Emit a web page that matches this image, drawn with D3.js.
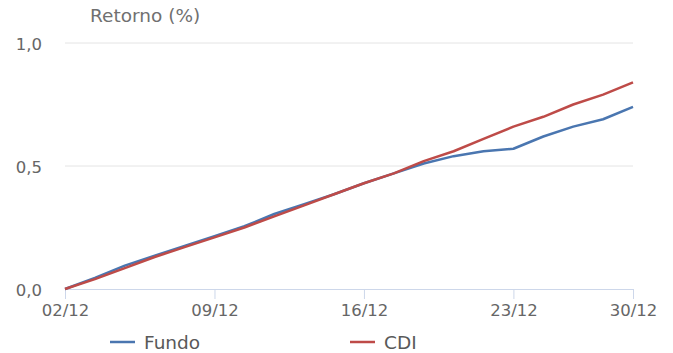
<!DOCTYPE html>
<html><head><meta charset="utf-8">
<script src="https://cdn.jsdelivr.net/npm/d3@7"></script>
<style>body{margin:0;background:#fff}svg{display:block;font-family:"DejaVu Sans",sans-serif}</style>
</head><body>
<svg id="c" width="673" height="353"></svg>
<script>
const dates = ["02/12","03/12","04/12","05/12","06/12","09/12","10/12","11/12","12/12","13/12","16/12","17/12","18/12","19/12","20/12","23/12","24/12","26/12","27/12","30/12"];
const fundo = [0,0.045,0.095,0.135,0.175,0.215,0.255,0.305,0.345,0.385,0.43,0.47,0.51,0.54,0.56,0.57,0.62,0.66,0.69,0.74];
const cdi   = [0,0.04,0.085,0.13,0.17,0.21,0.25,0.295,0.34,0.385,0.43,0.47,0.52,0.56,0.61,0.66,0.70,0.75,0.79,0.84];
const xTickLabels = ["02/12","09/12","16/12","23/12","30/12"];
const yTicks = [0,0.5,1.0];
const seriesNames = ["Fundo","CDI"];
const colors = ["#4A76B0","#BE4B48"];

const svg = d3.select("#c");
const L=65,R=633,T=43,B=289;
const x = d3.scalePoint().domain(dates).range([L,R]);
const y = d3.scaleLinear().domain([0,1]).range([B,T]);
const fmt = v => d3.format(".1f")(v).replace(".",",");

// gridlines
svg.append("g").selectAll("line").data(yTicks.filter(d=>d>0)).join("line")
  .attr("x1",L).attr("x2",R).attr("y1",d=>y(d)).attr("y2",d=>y(d))
  .attr("stroke","#E4E4E4").attr("stroke-width",1);

// y labels
svg.append("g").selectAll("text").data(yTicks).join("text")
  .attr("x",42).attr("y",d=>y(d)+1).attr("dy","0.35em").attr("text-anchor","end")
  .attr("font-size",16.5).attr("fill","#666").text(fmt);

// x axis
const xa = d3.axisBottom(x).tickValues(xTickLabels).tickSize(10).tickSizeOuter(0);
const gx = svg.append("g").attr("transform",`translate(0,${B})`).call(xa);
gx.select(".domain").attr("stroke","#CDD7EA");
gx.selectAll(".tick line").attr("stroke","#CDD7EA");
gx.selectAll(".tick text").attr("font-size",16.5).attr("fill","#666").attr("font-family","DejaVu Sans").attr("dy","0.35em").attr("y",21);

// title
svg.append("text").attr("x",90).attr("y",22).attr("font-size",18.5).attr("fill","#707070").text("Retorno (%)");

// lines
const line = d3.line().x((d,i)=>x(dates[i])).y(d=>y(d));
[fundo,cdi].forEach((s,k)=>{
  svg.append("path").datum(s).attr("d",line).attr("fill","none")
    .attr("stroke",colors[k]).attr("stroke-width",2.5).attr("stroke-linejoin","round");
});

// legend
const lg = svg.append("g");
const lx=[110,350];
seriesNames.forEach((n,k)=>{
  lg.append("line").attr("x1",lx[k]).attr("x2",lx[k]+25).attr("y1",342).attr("y2",342)
    .attr("stroke",colors[k]).attr("stroke-width",2.5);
  lg.append("text").attr("x",lx[k]+34).attr("y",343).attr("dy","0.35em")
    .attr("font-size",18.5).attr("fill","#595959").text(n);
});
</script>
</body></html>
